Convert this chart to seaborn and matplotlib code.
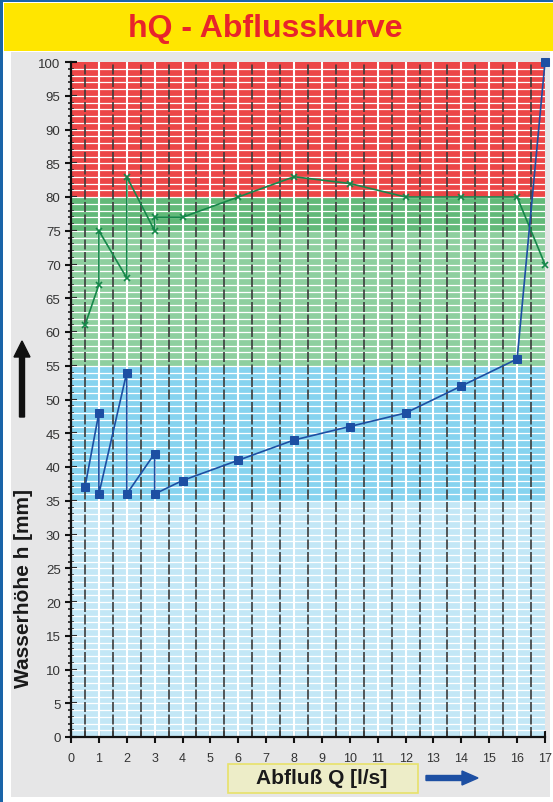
import matplotlib.pyplot as plt
import seaborn as sns
from matplotlib.patches import Rectangle, FancyArrow
from matplotlib.ticker import MultipleLocator

# data
q_blue = [0.5, 1, 1, 2, 2, 3, 3, 4, 6, 8, 10, 12, 14, 16, 17]
h_blue = [37, 48, 36, 54, 36, 42, 36, 38, 41, 44, 46, 48, 52, 56, 100]
q_green = [0.5, 1, 1, 2, 2, 3, 3, 4, 6, 8, 10, 12, 14, 16, 17]
h_green = [61, 67, 75, 68, 83, 75, 77, 77, 80, 83, 82, 80, 80, 80, 70]

# colour bands (lower, upper, colour)
bands = [
    (0, 35, "#c3e7f6"),
    (35, 55, "#86d3ef"),
    (55, 75, "#8ecf9f"),
    (75, 80, "#62b979"),
    (80, 100, "#ec4647"),
]

sns.set_style("white")
plt.rcParams["font.family"] = ["Liberation Sans", "DejaVu Sans"]

W, H = 553, 803
fig = plt.figure(figsize=(W / 100, H / 100), dpi=100)
fig.patch.set_facecolor("white")


def px_rect(x0, y0, x1, y1, color, **kw):
    fig.add_artist(Rectangle((x0 / W, 1 - y1 / H), (x1 - x0) / W, (y1 - y0) / H,
                             transform=fig.transFigure, facecolor=color,
                             edgecolor=kw.pop("edgecolor", "none"), zorder=kw.pop("zorder", 0), **kw))


# frame: blue border, yellow title band, grey panel
px_rect(0, 0, W, 2.5, "#1a64a8")
px_rect(0, 0, 3, H, "#1a64a8")
px_rect(4, 4, W, 52, "#ffe600")
px_rect(11, 53, 550, 798, "#e6e6e7")
fig.text(265 / W, 1 - 29 / H, "hQ - Abflusskurve", color="#e8242b", fontsize=23,
         fontweight="bold", ha="center", va="center")

ax = fig.add_axes([71 / W, 1 - 738 / H, (545 - 71) / W, (738 - 63) / H])
ax.set_facecolor("none")

for lo, hi, c in bands:
    ax.axhspan(lo, hi, xmin=0, xmax=1, color=c, zorder=0, lw=0)

# white grid
for y in range(1, 100):
    ax.axhline(y, color="white", lw=0.9, zorder=1)
for x in range(1, 17):
    ax.axvline(x, color="white", lw=1.5, zorder=1)
for i in range(17):
    ax.axvline(i + 0.5, color="#3c3c3c", lw=1.2, ls=(0, (6, 1.5)), zorder=1.5)

sns.lineplot(x=q_green, y=h_green, sort=False, estimator=None, ax=ax, color="#16874a",
             lw=1.2, marker="x", markersize=5, mew=1.2, mec="#16874a", zorder=3, clip_on=False)
sns.lineplot(x=q_blue, y=h_blue, sort=False, estimator=None, ax=ax, color="#1d4fa3",
             lw=1.2, marker="s", markersize=6, mec="#1d4fa3", mfc="#1d4fa3", zorder=4, clip_on=False)

ax.set_xlim(0, 17)
ax.set_ylim(0, 100)
ax.xaxis.set_major_locator(MultipleLocator(1))
ax.yaxis.set_major_locator(MultipleLocator(5))
ax.yaxis.set_minor_locator(MultipleLocator(1))
ax.xaxis.set_minor_locator(MultipleLocator(0.5))
ax.tick_params(axis="both", which="both", bottom=True, left=True)
ax.tick_params(axis="both", which="major", direction="inout", length=9, width=1.5,
               color="#111111", labelsize=9.5, labelcolor="#333333")
ax.tick_params(axis="y", which="minor", direction="inout", length=5, width=1.1, color="#111111")
ax.tick_params(axis="x", which="minor", direction="in", length=4, width=1.1, color="#111111")
ax.tick_params(axis="x", which="major", pad=6, labelsize=9)
ax.tick_params(axis="y", which="major", pad=3)
for s in ["top", "right"]:
    ax.spines[s].set_visible(False)
for s in ["left", "bottom"]:
    ax.spines[s].set_color("#111111")
    ax.spines[s].set_linewidth(1.6)
    ax.spines[s].set_zorder(5)
ax.set_xlabel("")
ax.set_ylabel("")

# y label with arrow
fig.text(24 / W, 1 - 588 / H, "Wasserhöhe h [mm]", rotation=90, fontsize=15,
         fontweight="bold", ha="center", va="center", color="#1a1a1a")
fig.add_artist(FancyArrow(22 / W, 1 - 418 / H, 0, 76 / H, width=5 / W, head_width=16 / W,
                          head_length=16 / H, length_includes_head=True,
                          transform=fig.transFigure, color="#111111"))

# x label in box with arrow
px_rect(228, 765, 418, 794, "#ededc8", edgecolor="#e8e26a", linewidth=1.2, zorder=1)
fig.text(322 / W, 1 - 779 / H, "Abfluß Q [l/s]", fontsize=15, fontweight="bold",
         ha="center", va="center", color="#1a1a1a")
fig.add_artist(FancyArrow(426 / W, 1 - 779 / H, 52 / W, 0, width=5 / H, head_width=14 / H,
                          head_length=16 / W, length_includes_head=True,
                          transform=fig.transFigure, color="#1d4fa3"))

fig.savefig("out.png", dpi=100)
